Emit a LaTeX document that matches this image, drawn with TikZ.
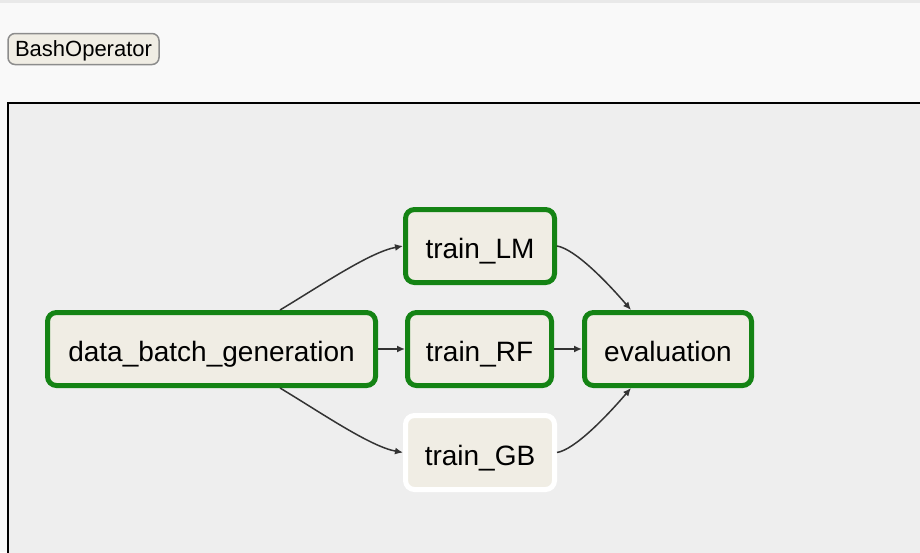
\documentclass[tikz,border=0pt]{standalone}
\usepackage{fontspec}
\setmainfont{Liberation Sans}
\usetikzlibrary{calc,arrows.meta}
\definecolor{pagebg}{HTML}{F9F9F9}
\definecolor{stripbg}{HTML}{E9E9E9}
\definecolor{panelbg}{HTML}{EEEEEE}
\definecolor{opfill}{HTML}{F0EDE4}
\definecolor{okgreen}{HTML}{148314}
\definecolor{edgegray}{HTML}{333333}
\tikzset{
  task/.style={draw=okgreen, line width=5pt, fill=opfill, rounded corners=9pt,
    minimum height=73pt, inner sep=0pt, text=black,
    text height=28pt, text depth=3pt,
    font=\fontsize{28}{33}\selectfont},
  pending/.style={task, draw=white},
  edge/.style={draw=edgegray, line width=1.5pt, -{Latex[length=8pt,width=7pt]}},
  legendbtn/.style={draw=black!45, line width=1.5pt, fill=opfill, rounded corners=7pt,
    minimum width=151pt, minimum height=31pt, inner sep=0pt,
    text height=16pt, text depth=2pt,
    font=\fontsize{22}{26}\selectfont}
}
\begin{document}
\begin{tikzpicture}[x=1pt,y=-1pt]
\useasboundingbox (0,0) rectangle (920,552);
\fill[pagebg] (0,0) rectangle (920,552);
\fill[stripbg] (0,0) rectangle (920,2.5);
\begin{scope}
\clip (0,0) rectangle (920,552);
\draw[black, line width=2pt, fill=panelbg] (8,103) rectangle (930,570);
\end{scope}
\node[legendbtn] (legend) at (83.5,49) {BashOperator};

\node[task, minimum width=328pt] (dbg) at (211.5,349) {data\_batch\_generation};
\node[task, minimum width=149pt] (lm) at (480,246) {train\_LM};
\node[task, minimum width=144pt] (rf) at (479.5,349) {train\_RF};
\node[pending, minimum width=149pt, minimum height=74pt] (gb) at (480,452.5) {train\_GB};
\node[task, minimum width=167pt] (ev) at (668,349) {evaluation};

\draw[edge] ($(dbg.north)+(68.5,0)$) .. controls +(40,-24) and +(-33,6) .. (lm.west);
\draw[edge] ($(dbg.south)+(68.5,0)$) .. controls +(40,24) and +(-33,-6) .. (gb.west);
\draw[edge] (dbg.east) -- (rf.west);
\draw[edge] (lm.east) .. controls +(18,3) and +(-24,-28) .. ($(ev.north)+(-37,0)$);
\draw[edge] (rf.east) -- (ev.west);
\draw[edge] (gb.east) .. controls +(18,-3) and +(-24,28) .. ($(ev.south)+(-37,0)$);
\end{tikzpicture}
\end{document}
